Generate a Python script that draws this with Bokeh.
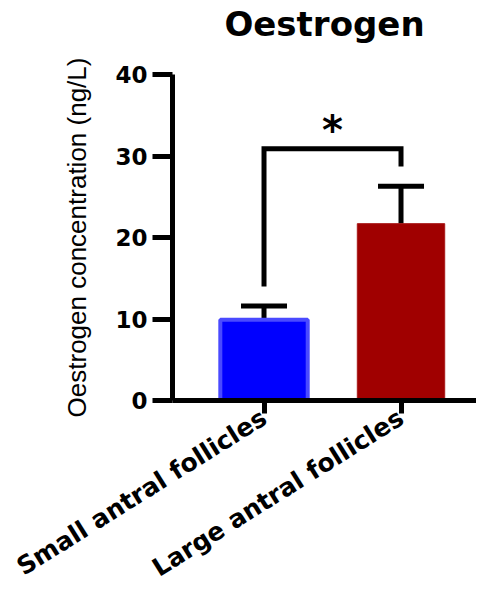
from bokeh.plotting import figure
from bokeh.models import (Range1d, FixedTicker, ColumnDataSource, Whisker, TeeHead,
                          LinearAxis)
from bokeh.core.properties import value
from bokeh.embed import file_html
from bokeh.resources import INLINE

# ---- data ----
categories = ["Small antral follicles", "Large antral follicles"]
means = [9.9, 21.7]
sems = [1.7, 4.6]
bar_colors = ["#0000FF", "#A00000"]
edge_colors = ["#4a4aff", "#a81818"]
edge_widths = [4, 1]
y_ticks = [0, 10, 20, 30, 40]
title_text = "Oestrogen"
y_label = "Oestrogen concentration (ng/L)"
# significance bracket (y values)
bracket_y = [14.0, 30.9, 30.9, 28.7]
star_y = 33.2
star_text = "*"

xs = list(range(len(categories)))
uppers = [m + s for m, s in zip(means, sems)]

src = ColumnDataSource(dict(x=xs, top=means, upper=uppers,
                            fill=bar_colors, edge=edge_colors, ew=edge_widths))

p = figure(width=476, height=597, output_backend="svg", toolbar_location=None,
           x_range=Range1d(-0.668, 1.551), y_range=Range1d(0, 40),
           min_border_left=172, min_border_right=0,
           min_border_top=74, min_border_bottom=197)
p.outline_line_color = None
p.grid.visible = False
p.background_fill_color = "white"

# bottom x axis (created by figure)
xa = p.below[0]
xa.ticker = FixedTicker(ticks=xs)
xa.major_label_overrides = {i: c for i, c in zip(xs, categories)}
xa.minor_tick_line_color = None
xa.major_tick_in = 0
xa.major_tick_out = 13
xa.major_tick_line_width = 5
xa.axis_line_width = 5
xa.axis_line_color = "black"
xa.major_tick_line_color = "black"
xa.major_label_orientation = 0.56
xa.major_label_text_font = "DejaVu Sans"
xa.major_label_text_font_style = "bold"
xa.major_label_text_font_size = "25px"
xa.major_label_text_color = "black"
xa.major_label_standoff = 2

# y axis
ya = p.left[0]
ya.ticker = FixedTicker(ticks=y_ticks)
ya.minor_tick_line_color = None
ya.major_tick_in = 0
ya.major_tick_out = 20
ya.major_tick_line_width = 5
ya.axis_line_width = 5
ya.axis_line_color = "black"
ya.major_tick_line_color = "black"
ya.major_label_text_font = "DejaVu Sans"
ya.major_label_text_font_style = "bold"
ya.major_label_text_font_size = "23px"
ya.major_label_text_color = "black"
ya.major_label_standoff = 5
ya.axis_label = y_label
ya.axis_label_text_font = "Liberation Sans"
ya.axis_label_text_font_style = "normal"
ya.axis_label_text_font_size = "26px"
ya.axis_label_text_color = "black"
ya.axis_label_standoff = 20

# title, drawn as the label of a bare axis above the frame
top_axis = LinearAxis(ticker=FixedTicker(ticks=[]), axis_label=title_text,
                      axis_line_color=None, major_tick_out=0, major_tick_in=0,
                      minor_tick_out=0, minor_tick_in=0,
                      major_label_standoff=0, axis_label_standoff=31,
                      axis_label_text_font="DejaVu Sans",
                      axis_label_text_font_style="bold",
                      axis_label_text_font_size="34px",
                      axis_label_text_color="black")
p.add_layout(top_axis, "above")

# bars
p.vbar(x="x", top="top", width=0.638, bottom=0, source=src,
       fill_color="fill", line_color="edge", line_width="ew")

# error bars
wh = Whisker(base="x", lower="top", upper="upper", source=src,
             line_width=5, line_color="black",
             upper_head=TeeHead(size=46, line_width=5, line_color="black"),
             lower_head=None)
p.add_layout(wh)

# significance bracket
bx = [xs[0], xs[0], xs[1], xs[1]]
p.line(x=bx, y=bracket_y, line_width=5, line_color="black", line_join="miter")
p.text(x=[(xs[0] + xs[1]) / 2], y=[star_y], text=[star_text],
       text_font=value("DejaVu Sans"), text_font_style="bold",
       text_font_size="40px", text_align="center", text_baseline="middle",
       text_color="black")

open("out.html", "w").write(file_html(p, INLINE))
